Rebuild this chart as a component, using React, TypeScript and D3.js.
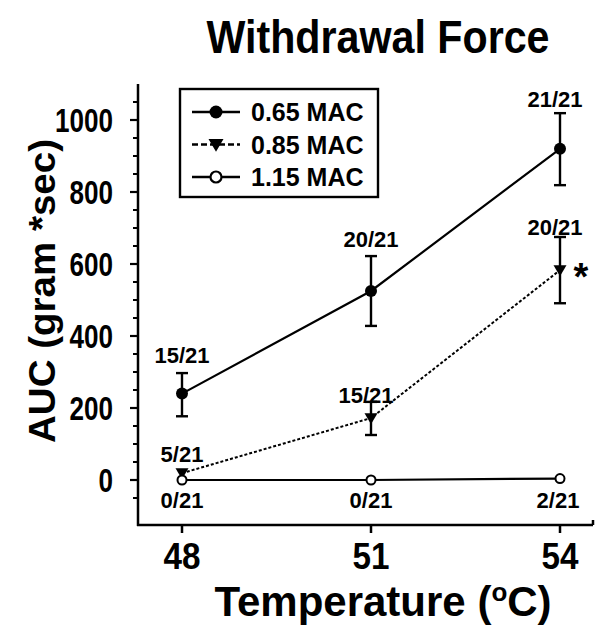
import React from "react";
import * as d3 from "d3";

const temps = [48, 51, 54];
const tickLabels = ["48", "51", "54"];
const yTicks = [0, 200, 400, 600, 800, 1000];

const mac065 = [240, 525, 920];
const mac065Err = [[177, 297], [428, 622], [819, 1019]];
const mac065Labels = ["15/21", "20/21", "21/21"];

const mac085 = [19, 172, 583];
const mac085Err = [null, [125, 217], [491, 675]] as (number[] | null)[];
const mac085Labels = ["5/21", "15/21", "20/21"];

const mac115 = [0, 0, 4];
const mac115Labels = ["0/21", "0/21", "2/21"];

const legendNames = ["0.65 MAC", "0.85 MAC", "1.15 MAC"];

const W = 597;
const H = 629;
const FONT = "'Liberation Sans', Arial, Helvetica, sans-serif";

export default function App() {
  const x = d3.scaleLinear().domain([48, 54]).range([182, 560]);
  const y = d3.scaleLinear().domain([-125, 1100]).range([525, 84]);
  const axisX0 = 138;
  const axisX1 = 593;
  const axisY = y(-125);
  const minor = d3.range(-50, 1100, 50).filter((v) => v % 200 !== 0);

  const line = d3
    .line<number>()
    .x((_, i) => x(temps[i]))
    .y((d) => y(d));

  const tri = (cx: number, cy: number, s: number) =>
    `M${cx - s},${cy - s * 0.75} L${cx + s},${cy - s * 0.75} L${cx},${cy + s * 0.95} Z`;

  const errBar = (i: number, e: number[], key: string) => (
    <g key={key} stroke="#000" strokeWidth={2.4}>
      <line x1={x(temps[i])} x2={x(temps[i])} y1={y(e[0])} y2={y(e[1])} />
      <line x1={x(temps[i]) - 6} x2={x(temps[i]) + 6} y1={y(e[0])} y2={y(e[0])} />
      <line x1={x(temps[i]) - 6} x2={x(temps[i]) + 6} y1={y(e[1])} y2={y(e[1])} />
    </g>
  );

  const ann = { fontFamily: FONT, fontWeight: 700, fontSize: 22, textAnchor: "middle" as const };

  return (
    <svg width={W} height={H} style={{ position: "absolute", left: 0, top: 0, background: "#fff" }}>
      <rect width={W} height={H} fill="#fff" />
      {/* title */}
      <text x={378} y={53} fontFamily={FONT} fontWeight={700} fontSize={46} textAnchor="middle" textLength={343} lengthAdjust="spacingAndGlyphs">
        Withdrawal Force
      </text>

      {/* axes */}
      <line x1={axisX0} x2={axisX0} y1={y(1100)} y2={axisY + 1} stroke="#000" strokeWidth={2.5} />
      <line x1={axisX0 - 1} x2={axisX1} y1={axisY} y2={axisY} stroke="#000" strokeWidth={2.5} />
      <line x1={axisX1} x2={axisX1} y1={axisY} y2={axisY - 5} stroke="#000" strokeWidth={2.5} />
      {yTicks.map((v) => (
        <g key={"yt" + v}>
          <line x1={axisX0 - 8} x2={axisX0} y1={y(v)} y2={y(v)} stroke="#000" strokeWidth={2.2} />
          <text
            x={113}
            y={y(v) + 12}
            fontFamily={FONT}
            fontWeight={700}
            fontSize={34}
            textAnchor="end"
            textLength={String(v).length * 14.5}
            lengthAdjust="spacingAndGlyphs"
          >
            {v}
          </text>
        </g>
      ))}
      {minor.map((v) => (
        <line key={"ym" + v} x1={axisX0 - 5} x2={axisX0} y1={y(v)} y2={y(v)} stroke="#000" strokeWidth={2} />
      ))}
      {temps.map((t, i) => (
        <g key={"xt" + t}>
          <line x1={x(t)} x2={x(t)} y1={axisY} y2={axisY + 8} stroke="#000" strokeWidth={2.5} />
          <text
            x={x(t)}
            y={569}
            fontFamily={FONT}
            fontWeight={700}
            fontSize={36}
            textAnchor="middle"
            textLength={37}
            lengthAdjust="spacingAndGlyphs"
          >
            {tickLabels[i]}
          </text>
        </g>
      ))}
      <text x={383} y={616} fontFamily={FONT} fontWeight={700} fontSize={42} textAnchor="middle">
        Temperature (<tspan fontSize={26} dy={-15}>o</tspan>
        <tspan dy={15}>C)</tspan>
      </text>
      <text
        transform={`translate(55,${291}) rotate(-90)`}
        fontFamily={FONT}
        fontWeight={700}
        fontSize={37}
        textAnchor="middle"
        textLength={304}
        lengthAdjust="spacingAndGlyphs"
      >
        AUC (gram *sec)
      </text>

      {/* 1.15 MAC */}
      <path d={line(mac115) || ""} fill="none" stroke="#000" strokeWidth={2.2} />
      {/* 0.65 MAC */}
      <path d={line(mac065) || ""} fill="none" stroke="#000" strokeWidth={2.2} />
      {mac065Err.map((e, i) => errBar(i, e, "e65" + i))}
      {/* 0.85 MAC */}
      <path d={line(mac085) || ""} fill="none" stroke="#000" strokeWidth={2} strokeDasharray="3,2" />
      {mac085Err.map((e, i) => (e ? errBar(i, e, "e85" + i) : null))}

      {mac065.map((v, i) => (
        <circle key={"c65" + i} cx={x(temps[i])} cy={y(v)} r={6} fill="#000" />
      ))}
      {mac085.map((v, i) => (
        <path key={"t85" + i} d={tri(x(temps[i]), y(v), 6.5)} fill="#000" />
      ))}
      {mac115.map((v, i) => (
        <circle key={"c115" + i} cx={x(temps[i])} cy={y(v)} r={4.5} fill="#fff" stroke="#000" strokeWidth={2} />
      ))}

      {/* annotations */}
      <text {...ann} x={x(48)} y={363}>{mac065Labels[0]}</text>
      <text {...ann} x={x(51)} y={247}>{mac065Labels[1]}</text>
      <text {...ann} x={x(54) - 5} y={107}>{mac065Labels[2]}</text>
      <text {...ann} x={x(48)} y={462}>{mac085Labels[0]}</text>
      <text {...ann} x={x(51) - 5} y={403}>{mac085Labels[1]}</text>
      <text {...ann} x={x(54) - 5} y={235}>{mac085Labels[2]}</text>
      {mac115Labels.map((l, i) => (
        <text key={"l115" + i} {...ann} x={x(temps[i]) - (i === 2 ? 2 : 0)} y={508}>{l}</text>
      ))}
      <text x={581} y={290} fontFamily={FONT} fontWeight={700} fontSize={38} textAnchor="middle">*</text>

      {/* legend */}
      <rect x={180} y={89} width={198} height={108} fill="#fff" stroke="#000" strokeWidth={2.4} />
      {legendNames.map((n, i) => {
        const ly = 112 + i * 32.5;
        return (
          <g key={"lg" + i}>
            <line x1={192} x2={240} y1={ly} y2={ly} stroke="#000" strokeWidth={2.4} strokeDasharray={i === 1 ? "6,3" : undefined} />
            {i === 0 && <circle cx={216} cy={ly} r={6.5} fill="#000" />}
            {i === 1 && <path d={tri(216, ly, 7.5)} fill="#000" />}
            {i === 2 && <circle cx={216} cy={ly} r={5.5} fill="#fff" stroke="#000" strokeWidth={2.2} />}
            <text x={251} y={ly + 9} fontFamily={FONT} fontWeight={700} fontSize={25}>
              {n}
            </text>
          </g>
        );
      })}
    </svg>
  );
}
